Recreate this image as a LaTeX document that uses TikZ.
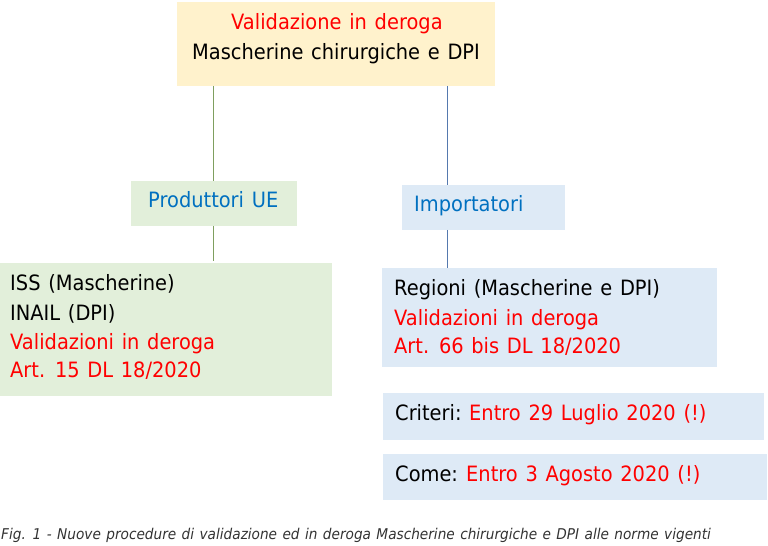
\documentclass[tikz,border=0pt]{standalone}
\usepackage{fontspec}
\setmainfont[FakeStretch=0.92,WordSpace=1.25]{DejaVu Sans}
\definecolor{cy}{HTML}{FFF2CC}
\definecolor{cg}{HTML}{E2EFDA}
\definecolor{cb}{HTML}{DEEAF6}
\definecolor{tb}{HTML}{0070C0}
\definecolor{lg}{HTML}{7F9F5F}
\definecolor{lb}{HTML}{5579AE}
\tikzset{
 box/.style={inner sep=0pt,outer sep=0pt,anchor=north west},
 txt/.style={inner sep=0pt,anchor=base west,font=\fontsize{21.1bp}{25bp}\selectfont},
 conn/.style={draw=lb,line width=0.7bp},
 conng/.style={draw=lg,line width=0.7bp}
}
\begin{document}
\begin{tikzpicture}[x=1bp,y=-1bp]
\useasboundingbox (0,0) rectangle (768,546);
\node[box,fill=cy,minimum width=318bp,minimum height=84bp] (top) at (177,2) {};
\node[box,fill=cg,minimum width=166bp,minimum height=45bp] (prod) at (131,181) {};
\node[box,fill=cb,minimum width=163bp,minimum height=45bp] (imp) at (402,185) {};
\node[box,fill=cg,minimum width=332bp,minimum height=133bp] (iss) at (0,263) {};
\node[box,fill=cb,minimum width=335bp,minimum height=99bp] (reg) at (382,268) {};
\node[box,fill=cb,minimum width=381bp,minimum height=47bp] (crit) at (383,393) {};
\node[box,fill=cb,minimum width=384bp,minimum height=46bp] (come) at (383,454) {};
\coordinate (a) at (213.5,86); \coordinate (a2) at (213.5,181);
\coordinate (b) at (213.5,226); \coordinate (b2) at (213.5,261);
\coordinate (c) at (447.5,86); \coordinate (c2) at (447.5,185);
\coordinate (d) at (447.5,230); \coordinate (d2) at (447.5,268);
\draw[conng] (a)--(a2); \draw[conng] (b)--(b2); \draw[conn] (c)--(c2); \draw[conn] (d)--(d2);
\node[txt,text=red] (t1) at (231,30) {Validazione in deroga};
\node[txt] (t2) at (192,59.5) {Mascherine chirurgiche e DPI};
\node[txt,text=tb] (t3) at (148,208) {Produttori UE};
\node[txt,text=tb] (t4) at (414,212) {Importatori};
\node[txt] (t5) at (10,291) {ISS (Mascherine)};
\node[txt] (t6) at (10,320) {INAIL (DPI)};
\node[txt,text=red] (t7) at (10,349) {Validazioni in deroga};
\node[txt,text=red] (t8) at (10,377) {Art. 15 DL 18/2020};
\node[txt] (t9) at (394,296) {Regioni (Mascherine e DPI)};
\node[txt,text=red] (t10) at (394,325) {Validazioni in deroga};
\node[txt,text=red] (t11) at (394,353) {Art. 66 bis DL 18/2020};
\node[txt] (t12) at (395,420) {Criteri:};
\node[txt,text=red] (t13) at (469,420) {Entro 29 Luglio 2020 (!)};
\node[txt] (t14) at (395,481) {Come:};
\node[txt,text=red] (t15) at (466,481) {Entro 3 Agosto 2020 (!)};
\node[inner sep=0pt,anchor=base west,font=\fontsize{14.85bp}{18bp}\selectfont\itshape,text=black!80] (cap) at (1,539) {Fig. 1 - Nuove procedure di validazione ed in deroga Mascherine chirurgiche e DPI alle norme vigenti};
\end{tikzpicture}
\end{document}
